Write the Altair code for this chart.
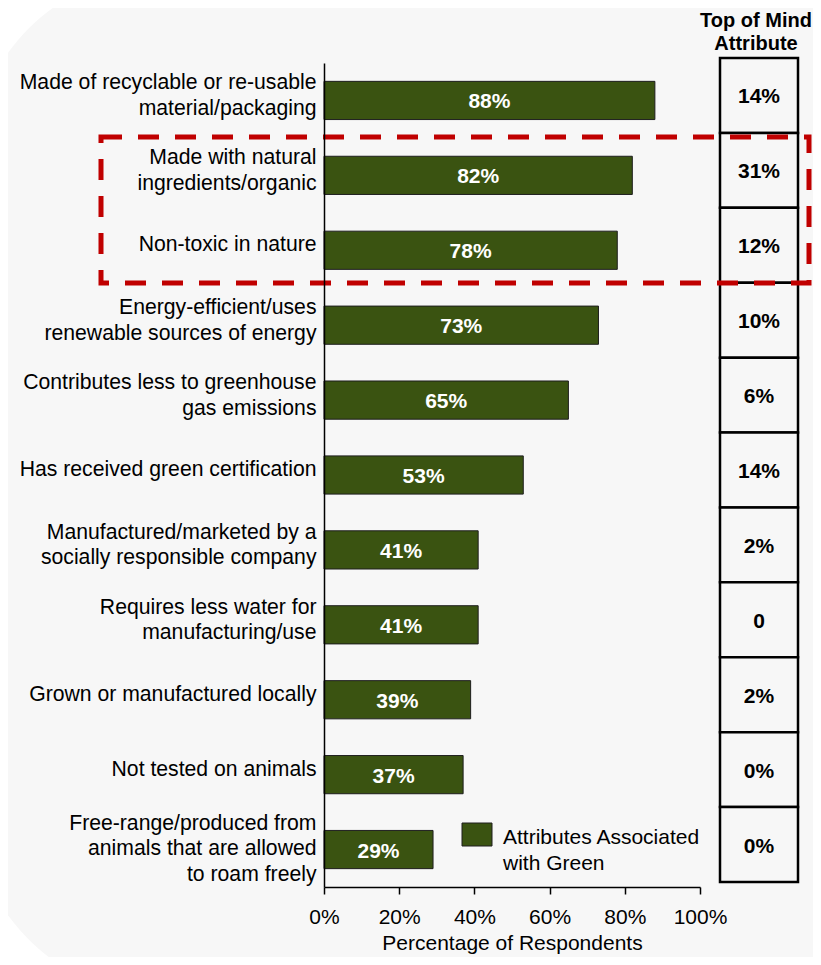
import altair as alt
import pandas as pd

categories = [
    "Made of recyclable or re-usable\nmaterial/packaging",
    "Made with natural\ningredients/organic",
    "Non-toxic in nature",
    "Energy-efficient/uses\nrenewable sources of energy",
    "Contributes less to greenhouse\ngas emissions",
    "Has received green certification",
    "Manufactured/marketed by a\nsocially responsible company",
    "Requires less water for\nmanufacturing/use",
    "Grown or manufactured locally",
    "Not tested on animals",
    "Free-range/produced from\nanimals that are allowed\nto roam freely",
]
green_pct = [88, 82, 78, 73, 65, 53, 41, 41, 39, 37, 29]
top_of_mind = ["14%", "31%", "12%", "10%", "6%", "14%", "2%", "0", "2%", "0%", "0%"]
x_ticks = [0, 20, 40, 60, 80, 100]
series_name = ["Attributes Associated", "with Green"]
table_title = ["Top of Mind", "Attribute"]

df = pd.DataFrame({
    "cat": categories,
    "pct": green_pct,
    "label": [f"{v}%" for v in green_pct],
    "tom": top_of_mind,
})
one = pd.DataFrame({"a": [0]})

FONT = "Liberation Sans"
GREEN = "#3a5311"
BG = "#f7f7f7"
W, H = 376, 824

label_offset = {
    "condition": [
        {"test": "length(split(datum.value, '\\n')) == 2", "value": -17},
        {"test": "length(split(datum.value, '\\n')) == 3", "value": -26},
    ],
    "value": -5,
}

y_main = alt.Y(
    "cat:N", sort=categories, title=None,
    scale=alt.Scale(paddingInner=0.49, paddingOuter=0.245),
    axis=alt.Axis(
        labelExpr="split(datum.label, '\\n')",
        labelFontSize=21.2, labelLineHeight=25.5, labelColor="black",
        labelPadding=8, ticks=False, domainColor="black", domainWidth=1.5,
        labelLimit=400, labelOffset=label_offset, labelFont=FONT, zindex=2,
    ),
)

x_main = alt.X(
    "pct:Q", scale=alt.Scale(domain=[0, 100]),
    title="Percentage of Respondents",
    axis=alt.Axis(
        values=x_ticks, labelExpr="datum.value + '%'", grid=False,
        labelFlush=False,
        tickSize=7, tickColor="black", tickWidth=1.5, domainColor="black",
        domainWidth=1.5, labelFontSize=21, labelColor="black", labelPadding=12,
        labelFont=FONT, titleFont=FONT, titleFontSize=21,
        titleFontWeight="normal", titleColor="black", titlePadding=5, zindex=2,
    ),
)

bg = alt.Chart(one).mark_rect(fill=BG, cornerRadius=200).encode(
    x=alt.value(-354), x2=alt.value(579), y=alt.value(-93), y2=alt.value(935)
)

bars = alt.Chart(df).mark_bar(color=GREEN, stroke="#1e1e1e", strokeWidth=1).encode(
    x=x_main, y=y_main
)

bar_labels = alt.Chart(df).transform_calculate(mid="datum.pct / 2").mark_text(
    color="white", fontWeight="bold", fontSize=21, font=FONT, baseline="middle", dy=2
).encode(x=alt.X("mid:Q"), y=alt.Y("cat:N", sort=categories), text="label:N")

main = alt.layer(bars, bar_labels)

y_tab = alt.Y(
    "cat:N", sort=categories, axis=None,
    scale=alt.Scale(paddingInner=0, paddingOuter=0, range=[-5, 819]),
)
boxes = alt.Chart(df).mark_rect(fill=BG, stroke="black", strokeWidth=2.5).encode(
    x=alt.value(396), x2=alt.value(474), y=y_tab
)
tab_text = alt.Chart(df).mark_text(
    fontWeight="bold", fontSize=21, font=FONT, baseline="middle", dy=2, color="black"
).encode(x=alt.value(435), y=alt.Y("cat:N", sort=categories), text="tom:N")
table = alt.layer(boxes, tab_text)

title_txt = alt.Chart(one).mark_text(
    text=table_title, fontWeight="bold", fontSize=20, font=FONT,
    baseline="alphabetic", lineHeight=23, align="center", color="black"
).encode(x=alt.value(432), y=alt.value(-36))

dash_box = alt.Chart(one).mark_rect(
    fillOpacity=0, stroke="#c00000", strokeWidth=5, strokeDash=[21, 16]
).encode(x=alt.value(-223), x2=alt.value(485), y=alt.value(74), y2=alt.value(220))

leg_sym = alt.Chart(one).mark_rect(fill=GREEN, stroke="#1e1e1e", strokeWidth=1).encode(
    x=alt.value(138), x2=alt.value(168), y=alt.value(760), y2=alt.value(783)
)
leg_txt = alt.Chart(one).mark_text(
    text=series_name, fontSize=21, font=FONT, align="left",
    baseline="alphabetic", lineHeight=26, color="black"
).encode(x=alt.value(179), y=alt.value(781))

chart = alt.layer(bg, main, table, title_txt, dash_box, leg_sym, leg_txt).resolve_scale(
    y="independent"
).properties(
    width=W, height=H,
    autosize=alt.AutoSizeParams(type="none"),
    padding={"left": 316, "top": 55, "right": 113, "bottom": 70},
).configure(
    background="white", font=FONT
).configure_view(stroke=None)

chart.save("out.html", embed_options={"renderer": "svg", "actions": False})
